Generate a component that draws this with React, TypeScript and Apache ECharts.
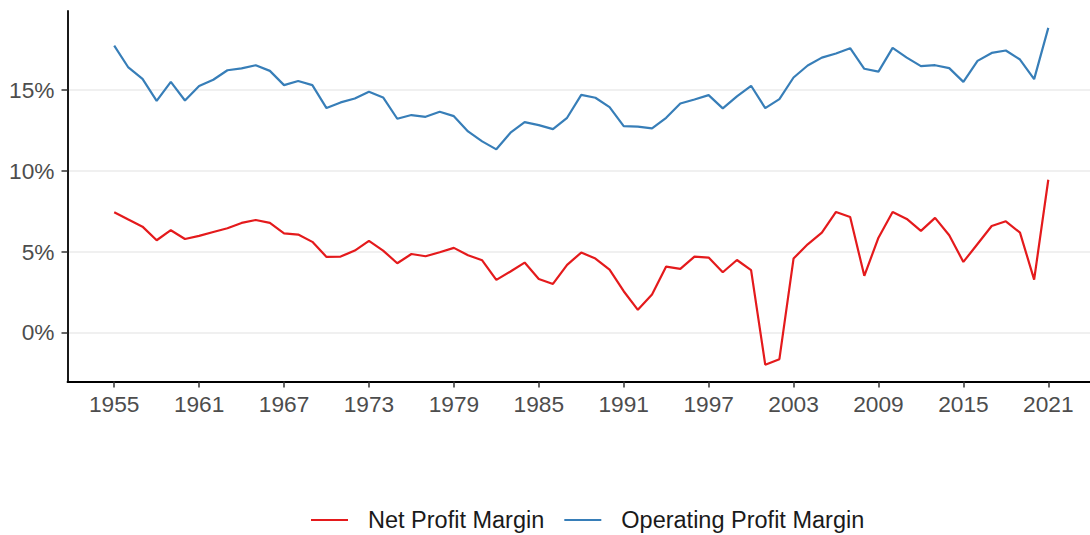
import React, { useEffect, useRef } from "react";
import * as echarts from "echarts";

const firstYear = 1955;
const lastYear = 2021;
const years: number[] = [];
for (let y = firstYear; y <= lastYear; y++) years.push(y);

const netProfitMargin = [
  7.43, 6.98, 6.54, 5.7, 6.32, 5.78, 5.97, 6.21, 6.44, 6.77,
  6.95, 6.77, 6.13, 6.05, 5.6, 4.67, 4.69, 5.06, 5.66, 5.06,
  4.28, 4.85, 4.71, 4.96, 5.23, 4.77, 4.46, 3.25, 3.77, 4.32,
  3.31, 3.0, 4.18, 4.94, 4.57, 3.89, 2.55, 1.4, 2.35, 4.07,
  3.93, 4.69, 4.63, 3.72, 4.48, 3.85, -1.99, -1.65, 4.57, 5.45,
  6.17, 7.45, 7.14, 3.5, 5.86, 7.45, 7.02, 6.28, 7.08, 6.01,
  4.36, 5.47, 6.58, 6.87, 6.17, 3.27, 9.44,
];

const operatingProfitMargin = [
  17.73, 16.38, 15.68, 14.32, 15.49, 14.34, 15.23, 15.62, 16.21, 16.32,
  16.52, 16.17, 15.29, 15.54, 15.29, 13.87, 14.22, 14.46, 14.88, 14.53,
  13.21, 13.44, 13.33, 13.64, 13.37, 12.43, 11.81, 11.32, 12.35, 13.0,
  12.82, 12.57, 13.27, 14.69, 14.51, 13.93, 12.76, 12.72, 12.61, 13.27,
  14.15, 14.4, 14.67, 13.85, 14.59, 15.25, 13.87, 14.42, 15.76, 16.5,
  16.99, 17.24, 17.57, 16.3, 16.12, 17.59, 16.99, 16.46, 16.52, 16.34,
  15.49, 16.79, 17.28, 17.43, 16.87, 15.66, 18.83,
];

const yTicks = [0, 5, 10, 15];
const xTicks = [1955, 1961, 1967, 1973, 1979, 1985, 1991, 1997, 2003, 2009, 2015, 2021];

const FONT = '"Liberation Sans", Arial, Helvetica, sans-serif';

export default function App() {
  const ref = useRef<HTMLDivElement>(null);
  useEffect(() => {
    if (!ref.current) return;
    const chart = echarts.init(ref.current, undefined, { renderer: "svg" });
    const all = netProfitMargin.concat(operatingProfitMargin);
    const dMin = Math.min(...all);
    const dMax = Math.max(...all);
    const yPad = (dMax - dMin) * 0.05;
    const xPad = (lastYear - firstYear) * 0.05;
    chart.setOption({
      animation: false,
      grid: { left: 67.5, right: 0, top: 11, bottom: 153.5, containLabel: false },
      legend: {
        left: 311,
        top: 508,
        padding: 0,
        itemWidth: 37,
        itemHeight: 14,
        itemGap: 20,
        icon: "path://M0,6 L37,6 L37,8 L0,8 Z",
        textStyle: {
          fontFamily: FONT,
          fontSize: 23.5,
          color: "#1a1a1a",
          padding: [0, 0, 0, 15],
        },
        data: ["Net Profit Margin", "Operating Profit Margin"],
      },
      xAxis: {
        type: "value",
        min: firstYear - xPad,
        max: lastYear + xPad,
        axisLine: { show: true, onZero: false, lineStyle: { color: "#000", width: 1.8 } },
        axisTick: {
          show: true,
          length: 6,
          lineStyle: { color: "#333", width: 1.5 },
          customValues: xTicks,
        },
        axisLabel: {
          customValues: xTicks,
          fontFamily: FONT,
          fontSize: 22.7,
          color: "#4D4D4D",
          margin: 11,
          formatter: (v: number) => String(v),
        },
        splitLine: { show: false },
      },
      yAxis: {
        type: "value",
        min: dMin - yPad,
        max: dMax + yPad,
        axisLine: { show: true, onZero: false, lineStyle: { color: "#000", width: 1.8 } },
        axisTick: {
          show: true,
          length: 6,
          lineStyle: { color: "#333", width: 1.5 },
          customValues: yTicks,
        },
        axisLabel: {
          customValues: yTicks,
          fontFamily: FONT,
          fontSize: 22.7,
          color: "#4D4D4D",
          margin: 13,
          formatter: (v: number) => v + "%",
        },
        splitLine: { show: true, lineStyle: { color: "#EBEBEB", width: 1.5 } },
      },
      series: [
        {
          name: "Net Profit Margin",
          type: "line",
          data: years.map((y, i) => [y, netProfitMargin[i]]),
          showSymbol: false,
          symbol: "none",
          itemStyle: { color: "#E41A1C" },
          lineStyle: { color: "#E41A1C", width: 2.2 },
        },
        {
          name: "Operating Profit Margin",
          type: "line",
          data: years.map((y, i) => [y, operatingProfitMargin[i]]),
          showSymbol: false,
          symbol: "none",
          itemStyle: { color: "#377EB8" },
          lineStyle: { color: "#377EB8", width: 2.2 },
        },
      ],
    });
    return () => chart.dispose();
  }, []);
  return (
    <div style={{ position: "fixed", left: 0, top: 0, width: 1090, height: 535, overflow: "hidden", background: "#fff" }}>
      <div ref={ref} style={{ position: "absolute", left: 0, top: 0, width: 1095, height: 535 }} />
    </div>
  );
}
